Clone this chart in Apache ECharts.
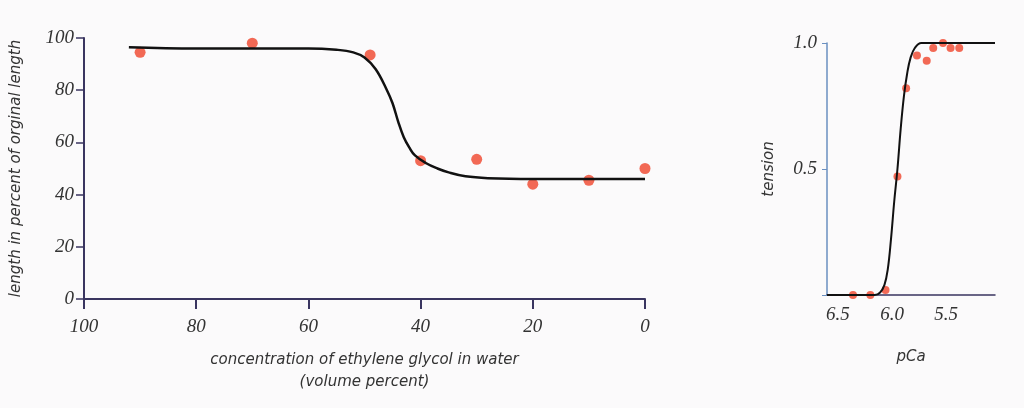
<!DOCTYPE html>
<html><head><meta charset="utf-8">
<script src="https://cdn.jsdelivr.net/npm/echarts@6/dist/echarts.min.js"></script>
<style>html,body{margin:0;padding:0;background:#fbfafb}#c{width:1024px;height:408px}</style>
</head><body><div id="c"></div>
<script>
// Left panel: ethylene glycol concentration vs length
const glycolDots = [[90,94.5],[70,98],[49,93.5],[40,53],[30,53.5],[20,44],[10,45.5],[0,50]];
const glycolCurve = [[92,96.5],[80,96],[60,96],[55,95.5],[52,94.5],[50,92.5],[48,88],[46,80],[45,75],[44,68],[43,62],[42,58],[41,55],[39,52],[37,50],[35,48.5],[32,47],[28,46.3],[20,46],[0,46]];
const glycolTicks = [0,20,40,60,80,100];
// Right panel: pCa vs tension
const pcaDots = [[6.36,0],[6.2,0],[6.06,0.02],[5.95,0.47],[5.87,0.82],[5.77,0.95],[5.68,0.93],[5.62,0.98],[5.53,1.0],[5.46,0.98],[5.38,0.98]];
const pcaCurve = [[6.6,0],[6.16,0],[6.11,0.01],[6.07,0.04],[6.04,0.1],[6.01,0.22],[5.98,0.37],[5.95,0.5],[5.92,0.66],[5.89,0.79],[5.86,0.88],[5.83,0.94],[5.79,0.98],[5.73,1],[5.05,1]];

const axisCol = '#3a3560';
const tickFont = {fontFamily:'Liberation Serif',fontStyle:'italic',fontSize:19,color:'#333'};
const titleFont = {fontFamily:'DejaVu Sans',fontStyle:'italic',fontSize:15,color:'#333'};
const chart = echarts.init(document.getElementById('c'));
chart.setOption({
  backgroundColor:'#fbfafb',
  animation:false,
  grid:[{left:84,right:379,top:38,bottom:109},{left:827,right:29,top:43,bottom:113}],
  xAxis:[
    {gridIndex:0,type:'value',inverse:true,min:0,max:100,interval:20,
     axisLine:{onZero:false,lineStyle:{color:axisCol,width:2}},axisTick:{inside:false,length:10,lineStyle:{color:axisCol,width:2}},
     splitLine:{show:false},axisLabel:Object.assign({margin:18},tickFont),
     name:'concentration of ethylene glycol in water\n(volume percent)',nameLocation:'middle',nameGap:50,
     nameTextStyle:Object.assign({lineHeight:22},titleFont)},
    {gridIndex:1,type:'value',inverse:true,min:5.05,max:6.6,
     axisLine:{onZero:false,lineStyle:{color:axisCol,width:1.5}},axisTick:{show:false},splitLine:{show:false},
     axisLabel:Object.assign({margin:10,formatter:v=>[6.5,6.0,5.5].some(t=>Math.abs(t-v)<1e-6)?v.toFixed(1):''},tickFont),
     interval:0.05,
     name:'pCa',nameLocation:'middle',nameGap:55,nameTextStyle:titleFont}
  ],
  yAxis:[
    {gridIndex:0,type:'value',min:0,max:100,interval:20,position:'left',
     axisLine:{show:true,onZero:false,lineStyle:{color:axisCol,width:2}},axisTick:{show:true,length:8,lineStyle:{color:axisCol,width:1.5}},
     splitLine:{show:false},axisLabel:Object.assign({margin:10},tickFont),
     name:'length in percent of orginal length',nameLocation:'middle',nameGap:60,nameTextStyle:titleFont},
    {gridIndex:1,type:'value',min:0,max:1,interval:0.5,position:'left',
     axisLine:{show:true,onZero:false,lineStyle:{color:'#6a8fc0',width:1.5}},axisTick:{show:true,length:5,lineStyle:{color:'#6a8fc0'}},
     splitLine:{show:false},axisLabel:Object.assign({margin:10,formatter:v=>v===0?'':v.toFixed(1)},tickFont),
     name:'tension',nameLocation:'middle',nameGap:50,nameTextStyle:titleFont}
  ],
  series:[
    {type:'line',xAxisIndex:0,yAxisIndex:0,data:glycolCurve,smooth:0.4,showSymbol:false,lineStyle:{color:'#111',width:2.5}},
    {type:'scatter',xAxisIndex:0,yAxisIndex:0,data:glycolDots,symbolSize:11,itemStyle:{color:'#f0452c'}},
    {type:'line',xAxisIndex:1,yAxisIndex:1,data:pcaCurve,smooth:0.4,showSymbol:false,lineStyle:{color:'#111',width:2}},
    {type:'scatter',xAxisIndex:1,yAxisIndex:1,data:pcaDots,symbolSize:8,itemStyle:{color:'#f0452c'}}
  ]
});
</script></body></html>
